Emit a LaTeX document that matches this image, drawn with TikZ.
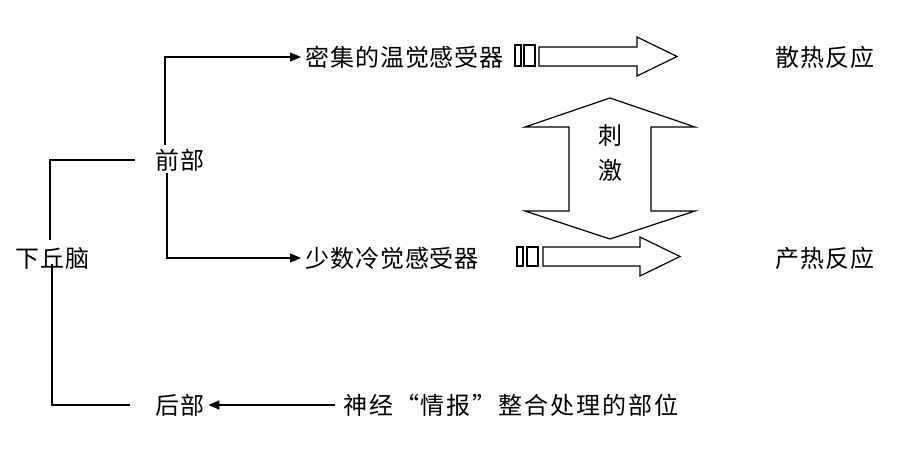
\documentclass[tikz,border=0pt]{standalone}
\usepackage{fontspec}
\newfontfamily\cjk[LetterSpace=4]{Noto Sans CJK SC}
\newfontfamily\cjkwide[LetterSpace=8]{Noto Sans CJK SC}
\usetikzlibrary{arrows.meta,calc}
\begin{document}
\begin{tikzpicture}[x=1pt,y=-1pt,
  lbl/.style={font=\cjk\fontsize{24}{28}\selectfont, inner sep=0pt, anchor=west},
  ln/.style={line width=1.2pt, line join=miter},
  arr/.style={ln, -{Triangle[length=11pt,width=9pt]}},
  blk/.style={line width=1.2pt, line join=miter, fill=white}]
\useasboundingbox (0,0) rectangle (919,460);
% text nodes
\node[lbl] (xq) at (15,258) {下丘脑};
\node[lbl] (qb) at (155,160) {前部};
\node[lbl] (hb) at (155,405) {后部};
\node[lbl] (mj) at (305,57) {密集的温觉感受器};
\node[lbl] (ss) at (305,258) {少数冷觉感受器};
\node[lbl] (sr) at (775,57) {散热反应};
\node[lbl] (cr) at (775,258) {产热反应};
\node[lbl, font=\cjkwide\fontsize{24}{28}\selectfont] (sj) at (343,405) {神经“情报”整合处理的部位};
% bracket
\coordinate (b1) at ($(xq.west)+(35,-18)$);
\coordinate (b2) at ($(xq.west)+(37,6)$);
\draw[ln] (b1) |- ($(qb.west)+(-20,0)$);
\draw[ln] (b2) |- ($(hb.west)+(-25,0)$);
% from front part
\coordinate (u1) at ($(qb.west)+(10,-15)$);
\coordinate (d1) at ($(qb.west)+(12,13)$);
\draw[arr] (u1) |- ($(mj.west)+(-4,0)$);
\draw[arr] (d1) |- ($(ss.west)+(-4,0)$);
% from integration to rear
\draw[arr] ($(sj.west)+(-8,0)$) -- ($(hb.east)+(4,0)$);
% block arrows
\draw[ln] (515,45) rectangle (521,66);
\draw[ln] (524,45) rectangle (535,66);
\draw[blk] (539,47)--(637,47)--(637,37)--(677,56.5)--(637,76)--(637,66)--(539,66)--cycle;
\draw[ln] (517,247) rectangle (523,266);
\draw[ln] (527,247) rectangle (538,266);
\draw[blk] (543,247)--(640,247)--(640,237)--(680,256.5)--(640,276)--(640,266)--(543,266)--cycle;
\draw[blk] (610,98)--(695,127)--(651,127)--(651,211)--(695,211)--(610,239)--(525,211)--(569,211)--(569,127)--(525,127)--cycle;
\node[lbl, anchor=center] (ci) at (610,135) {刺};
\node[lbl, anchor=center] (ji) at (610,170) {激};
\end{tikzpicture}
\end{document}
